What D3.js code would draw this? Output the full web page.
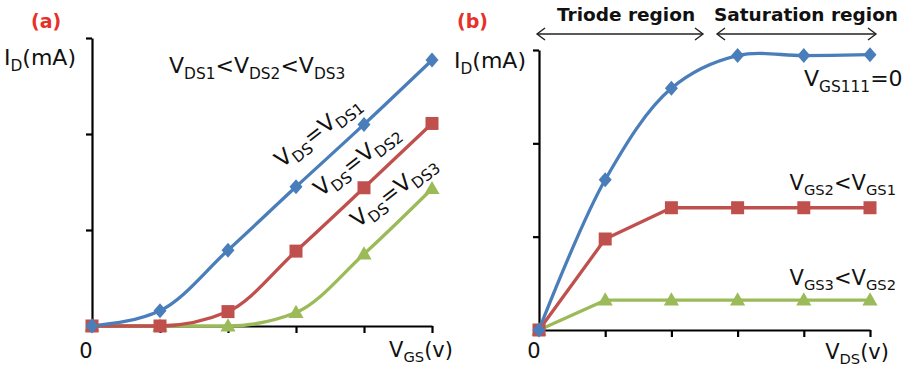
<!DOCTYPE html>
<html>
<head>
<meta charset="utf-8">
<script src="https://cdn.jsdelivr.net/npm/d3@7"></script>
<style>
  html, body { margin: 0; padding: 0; background: #fff; }
  svg { display: block; font-family: "DejaVu Sans", Verdana, sans-serif; }
</style>
</head>
<body>
<svg id="chart" width="908" height="367"></svg>
<script>
// Shared x positions (arbitrary voltage steps)
const xSteps = [0, 1, 2, 3, 4, 5];
const yTicks = [0, 1, 2, 3];

// (a) transfer characteristics: I_D vs V_GS for three V_DS values
const transferVds1 = [0, 0.16, 0.79, 1.45, 2.10, 2.77];
const transferVds2 = [0, 0, 0.15, 0.78, 1.44, 2.11];
const transferVds3 = [0, 0, 0, 0.14, 0.75, 1.43];

// (b) output characteristics: I_D vs V_DS for three V_GS values
const outputVgs1 = [0, 1.61, 2.59, 2.94, 2.94, 2.95];
const outputVgs2 = [0, 0.975, 1.31, 1.31, 1.31, 1.31];
const outputVgs3 = [0, 0.32, 0.32, 0.32, 0.32, 0.32];

const COLORS = { blue: "#4a7ebb", red: "#c0504d", green: "#9bbb59" };

const svg = d3.select("#chart");

// text with subscripts: parts = [[text, isSub], ...]
function richText(g, parts, size, opts = {}) {
  const t = g.append("text")
    .attr("font-size", size)
    .attr("fill", opts.fill || "#111")
    .attr("text-anchor", opts.anchor || "start");
  if (opts.weight) t.attr("font-weight", opts.weight);
  const subSize = size * 0.7, shift = size * 0.26;
  let sub = false;
  parts.forEach(([s, isSub]) => {
    const ts = t.append("tspan").text(s);
    if (isSub) ts.attr("font-size", subSize);
    if (isSub && !sub) ts.attr("dy", shift);
    else if (!isSub && sub) ts.attr("dy", -shift);
    sub = isSub;
  });
  return t;
}

function marker(g, type, x, y, color) {
  if (type === "diamond") {
    g.append("path").attr("d", "M0,-7.5L6.5,0L0,7.5L-6.5,0Z")
      .attr("transform", `translate(${x},${y})`).attr("fill", color);
  } else if (type === "square") {
    g.append("rect").attr("x", x - 6.5).attr("y", y - 6.5)
      .attr("width", 13).attr("height", 13).attr("fill", color);
  } else {
    g.append("path").attr("d", d3.symbol(d3.symbolTriangle, 100)())
      .attr("transform", `translate(${x},${y + 1})`).attr("fill", color);
  }
}

function panel(cfg) {
  const x = d3.scaleLinear().domain([0, 5]).range(cfg.xRange);
  const y = d3.scaleLinear().domain([0, 3]).range(cfg.yRange);
  const g = svg.append("g");

  const yAxis = d3.axisLeft(y).tickValues(yTicks).tickSize(6).tickSizeOuter(0).tickFormat("");
  const xAxis = d3.axisBottom(x).tickValues(xSteps.slice(1)).tickSize(7).tickSizeOuter(0).tickFormat("");
  g.append("g").attr("transform", `translate(${cfg.xRange[0]},0)`).call(yAxis)
    .call(a => a.selectAll("path,line").attr("stroke", "#000").attr("stroke-width", 2.2));
  g.append("g").attr("transform", `translate(0,${cfg.yRange[0]})`).call(xAxis)
    .call(a => a.selectAll("path,line").attr("stroke", "#000").attr("stroke-width", 2.2));

  cfg.series.forEach(s => {
    const line = d3.line().x((d, i) => x(xSteps[i])).y(d => y(d)).curve(s.curve);
    g.append("path").datum(s.values).attr("d", line)
      .attr("fill", "none").attr("stroke", s.color).attr("stroke-width", 3.3)
      .attr("stroke-linejoin", "round");
  });
  cfg.series.forEach(s => {
    s.values.forEach((v, i) => marker(g, s.marker, x(xSteps[i]), y(v), s.color));
  });
  return { g, x, y };
}

// ---- panel (a)
panel({
  xRange: [92, 432], yRange: [326, 38],
  series: [
    { values: transferVds3, color: COLORS.green, marker: "triangle", curve: d3.curveMonotoneX },
    { values: transferVds2, color: COLORS.red, marker: "square", curve: d3.curveMonotoneX },
    { values: transferVds1, color: COLORS.blue, marker: "diamond", curve: d3.curveMonotoneX }
  ]
});

// ---- panel (b)
panel({
  xRange: [539, 870], yRange: [330, 50],
  series: [
    { values: outputVgs3, color: COLORS.green, marker: "triangle", curve: d3.curveLinear },
    { values: outputVgs2, color: COLORS.red, marker: "square", curve: d3.curveLinear },
    { values: outputVgs1, color: COLORS.blue, marker: "diamond", curve: d3.curveCatmullRom.alpha(0.5) }
  ]
});

const FS = 21;

// panel tags
svg.append("text").attr("x", 31).attr("y", 28).attr("font-size", 19).attr("font-weight", "bold")
  .attr("fill", "#e8302a").text("(a)");
svg.append("text").attr("x", 457).attr("y", 28).attr("font-size", 19).attr("font-weight", "bold")
  .attr("fill", "#e8302a").text("(b)");

// axis titles
richText(svg, [["I", false], ["D", true], ["(mA)", false]], 22).attr("x", 4).attr("y", 65);
richText(svg, [["I", false], ["D", true], ["(mA)", false]], 22).attr("x", 454).attr("y", 68);
richText(svg, [["V", false], ["GS", true], ["(v)", false]], FS, { anchor: "end" }).attr("x", 453).attr("y", 357);
richText(svg, [["V", false], ["DS", true], ["(v)", false]], FS, { anchor: "end" }).attr("x", 889).attr("y", 359);
svg.append("text").attr("x", 86).attr("y", 358).attr("font-size", FS).attr("text-anchor", "middle").attr("fill", "#111").text("0");
svg.append("text").attr("x", 534).attr("y", 358).attr("font-size", FS).attr("text-anchor", "middle").attr("fill", "#111").text("0");

// panel (a) annotations
richText(svg, [["V", false], ["DS1", true], ["<V", false], ["DS2", true], ["<V", false], ["DS3", true]], 22)
  .attr("x", 169).attr("y", 73);
const rotLabels = [
  { sub: "DS1", cx: 322, cy: 137 },
  { sub: "DS2", cx: 361, cy: 166 },
  { sub: "DS3", cx: 398, cy: 197 }
];
rotLabels.forEach(l => {
  richText(svg, [["V", false], ["DS", true], ["=V", false], [l.sub, true]], 22, { anchor: "middle" })
    .attr("transform", `translate(${l.cx},${l.cy}) rotate(-38)`);
});

// panel (b) annotations
richText(svg, [["V", false], ["GS111", true], ["=0", false]], 22).attr("x", 804).attr("y", 86);
richText(svg, [["V", false], ["GS2", true], ["<V", false], ["GS1", true]], FS, { anchor: "end" }).attr("x", 896).attr("y", 190);
richText(svg, [["V", false], ["GS3", true], ["<V", false], ["GS2", true]], FS, { anchor: "end" }).attr("x", 896).attr("y", 285);

// region headers with double-headed arrows
const regions = [
  { label: "Triode region", x0: 537, x1: 703, tx: 626 },
  { label: "Saturation region", x0: 717, x1: 876, tx: 806 }
];
regions.forEach(r => {
  svg.append("text").attr("x", r.tx).attr("y", 21).attr("text-anchor", "middle")
    .attr("font-size", 18.5).attr("font-weight", "bold").attr("fill", "#111").text(r.label);
  const ay = 34;
  svg.append("line").attr("x1", r.x0).attr("x2", r.x1).attr("y1", ay).attr("y2", ay)
    .attr("stroke", "#222").attr("stroke-width", 1.4);
  svg.append("path").attr("d", `M${r.x0 + 8},${ay - 6}L${r.x0},${ay}L${r.x0 + 8},${ay + 6}`)
    .attr("fill", "none").attr("stroke", "#222").attr("stroke-width", 1.4);
  svg.append("path").attr("d", `M${r.x1 - 8},${ay - 6}L${r.x1},${ay}L${r.x1 - 8},${ay + 6}`)
    .attr("fill", "none").attr("stroke", "#222").attr("stroke-width", 1.4);
});
</script>
</body>
</html>
